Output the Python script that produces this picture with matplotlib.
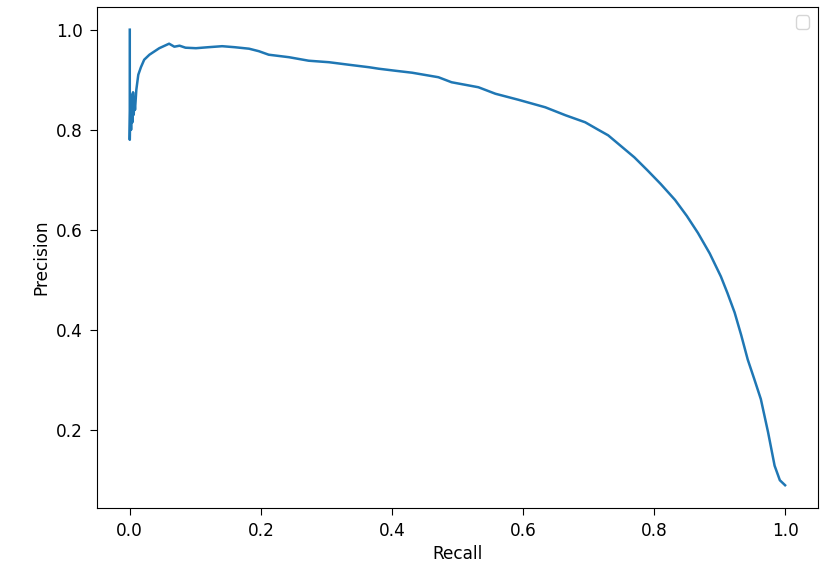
import matplotlib
matplotlib.use('Agg')
import matplotlib.pyplot as plt
import numpy as np

recall = [0.000, 0.000, 0.001, 0.002, 0.003, 0.004, 0.005, 0.006, 0.007, 0.008,
          0.010, 0.013, 0.017, 0.022, 0.030, 0.045, 0.060, 0.068, 0.076, 0.085,
          0.101, 0.120, 0.141, 0.160, 0.182, 0.197, 0.212, 0.243, 0.273, 0.304,
          0.334, 0.365, 0.380, 0.405, 0.431, 0.471, 0.491, 0.532, 0.558, 0.593,
          0.634, 0.665, 0.695, 0.715, 0.730, 0.750, 0.770, 0.790, 0.810, 0.832,
          0.850, 0.867, 0.885, 0.902, 0.912, 0.923, 0.933, 0.943, 0.953, 0.963,
          0.974, 0.984, 0.992, 1.000]
precision = [1.000, 0.780, 0.860, 0.800, 0.870, 0.815, 0.875, 0.830, 0.860, 0.840,
             0.880, 0.910, 0.925, 0.940, 0.950, 0.963, 0.972, 0.966, 0.968, 0.964,
             0.963, 0.965, 0.967, 0.965, 0.962, 0.957, 0.950, 0.945, 0.938, 0.935,
             0.930, 0.925, 0.922, 0.918, 0.914, 0.905, 0.895, 0.885, 0.872, 0.860,
             0.845, 0.829, 0.815, 0.800, 0.789, 0.767, 0.745, 0.719, 0.692, 0.660,
             0.628, 0.594, 0.553, 0.507, 0.474, 0.435, 0.390, 0.341, 0.302, 0.262,
             0.196, 0.129, 0.100, 0.090]

plt.rcParams['font.size'] = 12.2
plt.rcParams['xtick.major.size'] = 5
plt.rcParams['ytick.major.size'] = 5
plt.rcParams['xtick.major.pad'] = 5
plt.rcParams['ytick.major.pad'] = 5

fig = plt.figure(figsize=(8.32, 5.75), dpi=100)
ax = fig.add_axes([0.1166, 0.1165, 0.8664, 0.8715])
ax.plot(recall, precision, color='#1f77b4', linewidth=1.8)
ax.set_xlabel('Recall')
ax.set_ylabel('Precision')
ax.set_yticks([0.2, 0.4, 0.6, 0.8, 1.0])
ax.legend()
fig.savefig('out.png', dpi=100)
